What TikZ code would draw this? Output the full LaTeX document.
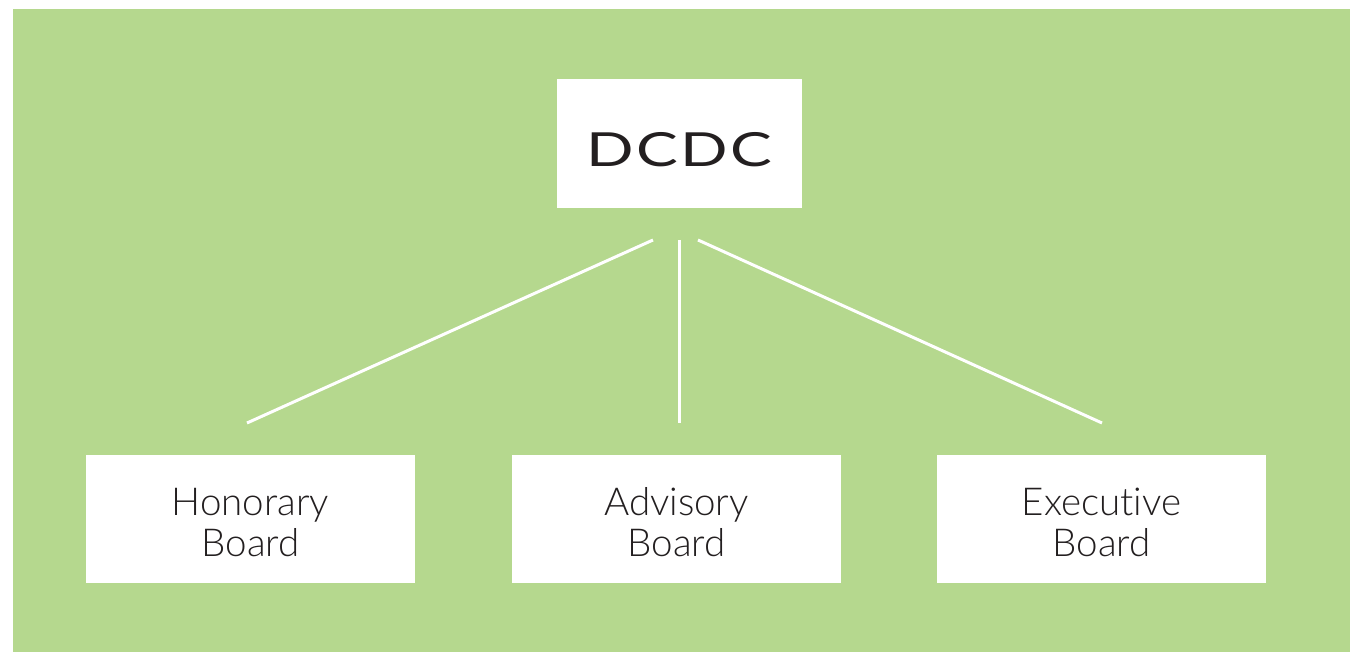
\documentclass[tikz,border=0pt]{standalone}
\usepackage{fontspec}
\setmainfont[Ligatures=NoCommon]{Lato Light}
\newfontfamily\logofont[LetterSpace=4]{Lato}
\begin{document}
\begin{tikzpicture}[x=1pt,y=-1pt,
  whitebox/.style={fill=white,draw=none,minimum width=329pt,minimum height=128pt,inner sep=0pt},
  boardtext/.style={text=txtgray,font=\fontsize{38.5}{41}\selectfont,align=center,inner sep=0pt},
  link/.style={draw=white,line width=3pt}]
\definecolor{bggreen}{RGB}{181,216,142}
\definecolor{txtgray}{RGB}{35,31,32}
\useasboundingbox (0,0) rectangle (1368,652);
\fill[bggreen] (13,9) rectangle (1350,652);
\node[whitebox,minimum width=245pt,minimum height=129pt] (dcdc) at (679.5,143.5) {};
\node[text=txtgray,inner sep=0pt,font=\logofont\fontsize{47}{48}\selectfont] (dcdclabel) at (679.5,150) {\scalebox{1.33}[1]{DCDC}};
\node[whitebox] (hon) at (250.5,519) {};
\node[boardtext] (honl) at (250.5,522.5) {Honorary\\Board};
\node[whitebox] (adv) at (676.5,519) {};
\node[boardtext] (advl) at (676.5,522.5) {Advisory\\Board};
\node[whitebox] (exe) at (1101.5,519) {};
\node[boardtext] (exel) at (1101.5,522.5) {Executive\\Board};
\coordinate (t1) at (653,240);
\coordinate (t2) at (679,240);
\coordinate (t3) at (698,240);
\coordinate (b1) at (247,423);
\coordinate (b2) at (679,423);
\coordinate (b3) at (1102,423);
\draw[link] (t1) -- (b1);
\draw[link] (t2) -- (b2);
\draw[link] (t3) -- (b3);
\end{tikzpicture}
\end{document}
